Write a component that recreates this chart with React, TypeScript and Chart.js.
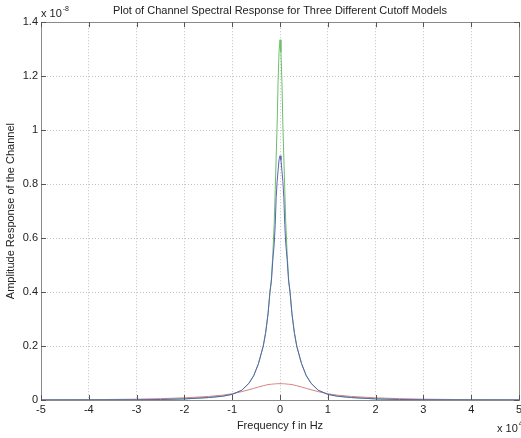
import React, { useEffect, useRef } from "react";
import { Chart, registerables } from "chart.js";

Chart.register(...registerables);

// Frequency in units of 1e4 Hz
const freq = [
  -5, -4, -3, -2.5, -2, -1.5, -1.2, -1, -0.8, -0.65, -0.55, -0.45, -0.35, -0.3, -0.25, -0.21, -0.18, -0.15,
  -0.12, -0.1, -0.08, -0.06, -0.04, -0.02, 0, 0.02, 0.04, 0.06, 0.08, 0.1, 0.12, 0.15, 0.18, 0.21, 0.25, 0.3,
  0.35, 0.45, 0.55, 0.65, 0.8, 1, 1.2, 1.5, 2, 2.5, 3, 4, 5,
];

// Amplitude in units of 1e-8
const greenModel = [
  0.0002, 0.0004, 0.001, 0.002, 0.004, 0.009, 0.014, 0.021, 0.036, 0.062, 0.09, 0.135, 0.2, 0.25, 0.32, 0.4, 0.45,
  0.54, 0.66, 0.78, 0.9, 1.02, 1.18, 1.29, 1.335, 1.29, 1.18, 1.02, 0.9, 0.78, 0.66, 0.54, 0.45, 0.4, 0.32, 0.25,
  0.2, 0.135, 0.09, 0.062, 0.036, 0.021, 0.014, 0.009, 0.004, 0.002, 0.001, 0.0004, 0.0002,
];

const blueModel = [
  0.0002, 0.0004, 0.001, 0.002, 0.004, 0.009, 0.014, 0.021, 0.036, 0.062, 0.09, 0.135, 0.2, 0.25, 0.32, 0.4, 0.44,
  0.52, 0.58, 0.65, 0.75, 0.81, 0.85, 0.89, 0.905, 0.89, 0.85, 0.81, 0.75, 0.65, 0.58, 0.52, 0.44, 0.4, 0.32, 0.25,
  0.2, 0.135, 0.09, 0.062, 0.036, 0.021, 0.014, 0.009, 0.004, 0.002, 0.001, 0.0004, 0.0002,
];

const redModel = [
  0.0005, 0.0012, 0.003, 0.005, 0.008, 0.013, 0.018, 0.023, 0.031, 0.038, 0.043, 0.048, 0.053, 0.055, 0.057, 0.058,
  0.0585, 0.059, 0.0595, 0.06, 0.06, 0.0603, 0.0604, 0.0605, 0.0605, 0.0605, 0.0604, 0.0603, 0.06, 0.06, 0.0595,
  0.059, 0.0585, 0.058, 0.057, 0.055, 0.053, 0.048, 0.043, 0.038, 0.031, 0.023, 0.018, 0.013, 0.008, 0.005, 0.003,
  0.0012, 0.0005,
];

const xTicks = [-5, -4, -3, -2, -1, 0, 1, 2, 3, 4, 5];
const yTicks = [0, 0.2, 0.4, 0.6, 0.8, 1, 1.2, 1.4];

const FONT = "'Liberation Sans', Arial, sans-serif";

const boxPlugin = {
  id: "matlabBox",
  afterDraw(chart: any) {
    const { ctx, chartArea: a, scales } = chart;
    ctx.save();
    ctx.strokeStyle = "#8a8a8a";
    ctx.lineWidth = 1;
    ctx.setLineDash([]);
    ctx.strokeRect(Math.round(a.left) + 0.5, Math.round(a.top) + 0.5, Math.round(a.right - a.left), Math.round(a.bottom - a.top));
    ctx.strokeStyle = "#555";
    ctx.beginPath();
    for (const t of xTicks) {
      const x = Math.round(scales.x.getPixelForValue(t)) + 0.5;
      ctx.moveTo(x, a.bottom);
      ctx.lineTo(x, a.bottom - 5);
      ctx.moveTo(x, a.top);
      ctx.lineTo(x, a.top + 5);
    }
    for (const t of yTicks) {
      const y = Math.round(scales.y.getPixelForValue(t)) + 0.5;
      ctx.moveTo(a.left, y);
      ctx.lineTo(a.left + 5, y);
      ctx.moveTo(a.right, y);
      ctx.lineTo(a.right - 5, y);
    }
    ctx.stroke();
    // exponent labels
    ctx.fillStyle = "#222";
    ctx.textBaseline = "alphabetic";
    ctx.textAlign = "left";
    ctx.font = `11px ${FONT}`;
    ctx.fillText("x 10", a.left, a.top - 5);
    const w1 = ctx.measureText("x 10").width;
    ctx.font = `7px ${FONT}`;
    ctx.fillText("-8", a.left + w1 + 1, a.top - 11);
    ctx.font = `11px ${FONT}`;
    ctx.fillText("x 10", a.right - 22, a.bottom + 32);
    const w2 = ctx.measureText("x 10").width;
    ctx.font = `7px ${FONT}`;
    ctx.fillText("4", a.right - 22 + w2 + 1, a.bottom + 26);
    ctx.restore();
  },
};

export default function App() {
  const ref = useRef<HTMLCanvasElement | null>(null);

  useEffect(() => {
    document.body.style.margin = "0";
    const canvas = ref.current;
    if (!canvas) return;
    const mk = (vals: number[]) => freq.map((f, i) => ({ x: f, y: vals[i] }));
    const chart = new Chart(canvas, {
      type: "line",
      data: {
        datasets: [
          { label: "Model 2", data: mk(blueModel), borderColor: "#5a64b4", borderWidth: 1, pointRadius: 0, fill: false },
          { label: "Model 1", data: mk(greenModel), borderColor: "#6cbf6c", borderWidth: 1, pointRadius: 0, fill: false },
          { label: "Model 3", data: mk(redModel), borderColor: "#d98080", borderWidth: 1, pointRadius: 0, fill: false },
        ],
      },
      plugins: [boxPlugin],
      options: {
        animation: false,
        responsive: false,
        maintainAspectRatio: false,
        layout: { padding: { left: 0, right: 2, top: 0, bottom: 0 } },
        plugins: {
          legend: { display: false },
          tooltip: { enabled: false },
          title: {
            display: true,
            text: "Plot of Channel Spectral Response for Three Different Cutoff Models",
            fullSize: false,
            color: "#222",
            font: { family: FONT, size: 11, weight: "normal" },
            padding: { top: 4, bottom: 5 },
          },
        },
        scales: {
          x: {
            type: "linear",
            min: -5,
            max: 5,
            afterBuildTicks: (s: any) => {
              s.ticks = xTicks.map((v) => ({ value: v }));
            },
            afterFit: (s: any) => {
              s.height = 38;
              s.paddingLeft = 0;
              s.paddingRight = 0;
            },
            ticks: {
              color: "#222",
              font: { family: FONT, size: 11 },
              padding: 3,
              maxRotation: 0,
              autoSkip: false,
              callback: (v: any) => String(v),
            },
            grid: { color: "#c4c4c4", drawTicks: false, lineWidth: 1 },
            border: { display: false, dash: [1, 2] },
            title: {
              display: true,
              text: "Frequency f in Hz",
              color: "#222",
              font: { family: FONT, size: 11 },
              padding: { top: 0, bottom: 5 },
            },
          },
          y: {
            type: "linear",
            min: 0,
            max: 1.4,
            afterBuildTicks: (s: any) => {
              s.ticks = yTicks.map((v) => ({ value: v }));
            },
            afterFit: (s: any) => {
              s.width = 41;
              s.paddingTop = 0;
              s.paddingBottom = 0;
            },
            ticks: {
              color: "#222",
              font: { family: FONT, size: 11 },
              padding: 3,
              autoSkip: false,
              callback: (v: any) => String(Math.round(v * 10) / 10),
            },
            grid: { color: "#c4c4c4", drawTicks: false, lineWidth: 1 },
            border: { display: false, dash: [1, 2] },
            title: {
              display: true,
              text: "Amplitude Response of the Channel",
              color: "#222",
              font: { family: FONT, size: 11 },
              padding: { top: 4, bottom: 0 },
            },
          },
        },
      },
    } as any);
    return () => chart.destroy();
  }, []);

  return (
    <div style={{ width: 521, height: 438, background: "#fff" }}>
      <canvas ref={ref} width={521} height={438} style={{ display: "block" }} />
    </div>
  );
}
